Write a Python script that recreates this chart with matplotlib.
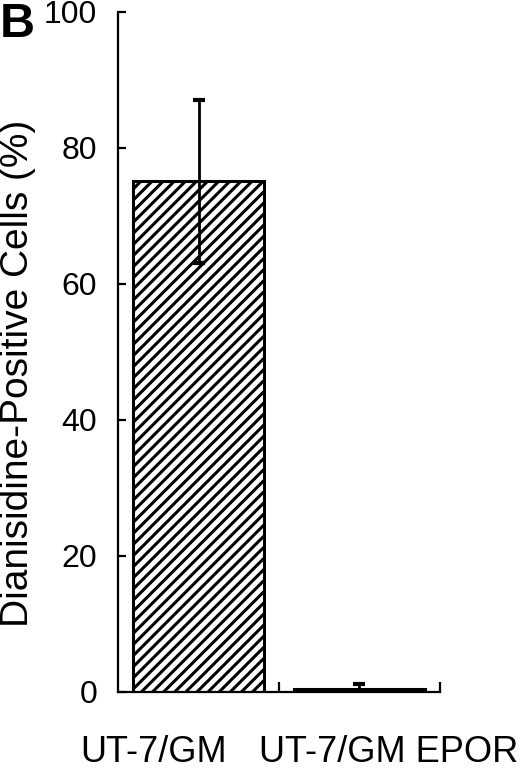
import matplotlib
matplotlib.use("Agg")
import matplotlib.pyplot as plt

# data
cell_lines = ['UT-7/GM', 'UT-7/GM EPOR']
positive_pct = [75.1, 0.4]
pct_err = [12.0, 0.8]
y_ticks = [0, 20, 40, 60, 80, 100]

plt.rcParams['font.family'] = ['Liberation Sans', 'DejaVu Sans']
plt.rcParams['hatch.linewidth'] = 2.2

fig = plt.figure(figsize=(5.2, 7.71), dpi=100)
ax = fig.add_axes([0.227, 0.1025, 0.619, 0.882])

xpos = [0, 1]
ax.bar(xpos, positive_pct, width=0.815, color='white', edgecolor='black',
       linewidth=2.2, hatch='///', zorder=2)
ax.errorbar(xpos, positive_pct, yerr=pct_err, fmt='none', ecolor='black',
            elinewidth=2, capsize=4, capthick=3, zorder=3)

ax.set_xlim(-0.5, 1.5)
ax.set_ylim(0, 100)

for side in ['top', 'right']:
    ax.spines[side].set_visible(False)
for side in ['left', 'bottom']:
    ax.spines[side].set_linewidth(1.6)

ax.set_yticks(y_ticks)
ax.tick_params(axis='y', direction='in', length=6, width=1.6, labelsize=23, pad=15)

# labels sit off-centre under the bars in the original
ax.set_xticks([-0.28, 1.18])
ax.set_xticklabels(cell_lines)
ax.set_xticks([0.5, 1.5], minor=True)
ax.tick_params(axis='x', which='major', length=0, labelsize=26, pad=31)
ax.tick_params(axis='x', which='minor', direction='in', length=7, width=1.6)

ax.set_ylabel('Dianisidine-Positive Cells (%)', fontsize=28, va='center')
ax.yaxis.set_label_coords(-0.31, 0.469)

fig.text(0.0, 1 - 37 / 771, 'B', fontsize=35, fontweight='bold', va='baseline')

fig.savefig('out.png', dpi=100)
